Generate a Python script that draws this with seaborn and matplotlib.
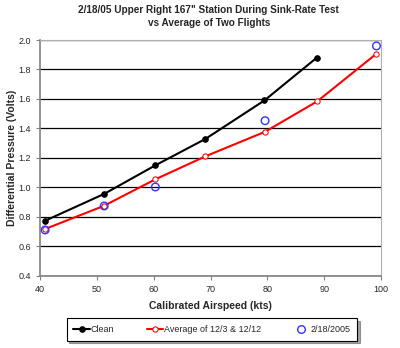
import matplotlib
matplotlib.use("Agg")
import matplotlib.pyplot as plt
import seaborn as sns
import pandas as pd

clean_x = [40.8, 51.3, 60.3, 69.1, 79.5, 88.7]
clean_y = [0.771, 0.955, 1.149, 1.328, 1.59, 1.88]
avg_x = [40.8, 51.2, 60.3, 69.1, 79.6, 88.8, 99.2]
avg_y = [0.715, 0.873, 1.054, 1.21, 1.377, 1.584, 1.907]
d0218_x = [40.9, 51.3, 60.3, 79.6, 99.2]
d0218_y = [0.71, 0.873, 1.002, 1.452, 1.96]

title = "2/18/05 Upper Right 167\" Station During Sink-Rate Test\nvs Average of Two Flights"
xlabel = "Calibrated Airspeed (kts)"
ylabel = "Differential Pressure (Volts)"
labels = ["Clean", "Average of 12/3 & 12/12", "2/18/2005"]

sns.set_style("white")
plt.rcParams['font.family'] = ['Liberation Sans', 'DejaVu Sans']

fig = plt.figure(figsize=(4.0, 3.48), dpi=100)
ax = fig.add_axes([0.1, 0.208, 0.8525, 0.677])

df_c = pd.DataFrame({"x": clean_x, "y": clean_y})
df_a = pd.DataFrame({"x": avg_x, "y": avg_y})
df_d = pd.DataFrame({"x": d0218_x, "y": d0218_y})

sns.lineplot(data=df_c, x="x", y="y", ax=ax, color="black", lw=1.5, marker="o",
             markersize=4, markerfacecolor="black", markeredgecolor="black", label=labels[0])
sns.lineplot(data=df_a, x="x", y="y", ax=ax, color="#ff0000", lw=1.5, marker="o",
             markersize=3.8, markerfacecolor="white", markeredgecolor="#ff0000", label=labels[1])
sns.scatterplot(data=df_d, x="x", y="y", ax=ax, marker="o", s=30, facecolor="none",
                edgecolor="#3333ff", linewidth=1.0, label=labels[2], zorder=5)

ax.set_xlim(40, 100)
ax.set_ylim(0.4, 2.0)
ax.set_xticks(range(40, 101, 10))
ax.set_yticks([0.4 + 0.2 * i for i in range(9)])
ax.set_yticklabels([f"{0.4 + 0.2 * i:.1f}" for i in range(9)])
ax.yaxis.grid(True, color="black", lw=0.9)
ax.set_axisbelow(True)
ax.tick_params(axis="both", labelsize=6.5, length=3, direction="out", width=0.8, color="#808080",
               left=True, bottom=True)
for s in ["left", "bottom"]:
    ax.spines[s].set_color("#808080")
    ax.spines[s].set_linewidth(1.2)
for s in ["top", "right"]:
    ax.spines[s].set_color("#b0b0b0")
    ax.spines[s].set_linewidth(0.8)

ax.set_xlabel(xlabel, fontsize=7.5, fontweight="bold", labelpad=5)
ax.set_ylabel(ylabel, fontsize=7.5, fontweight="bold", labelpad=1)
fig.suptitle(title, fontsize=7.2, fontweight="bold", x=0.522, y=0.985, linespacing=1.35)

handles, labs = ax.get_legend_handles_labels()
if ax.legend_:
    ax.legend_.remove()
leg = fig.legend(handles, labs, loc="center", bbox_to_anchor=(0.53, 0.0535), ncol=3,
                 fontsize=6.5, frameon=True, fancybox=False, shadow=True, edgecolor="black",
                 borderpad=0.75, columnspacing=3.6, handlelength=1.8, handletextpad=0.1)
leg.get_frame().set_linewidth(0.8)

fig.savefig("out.png", dpi=100)
